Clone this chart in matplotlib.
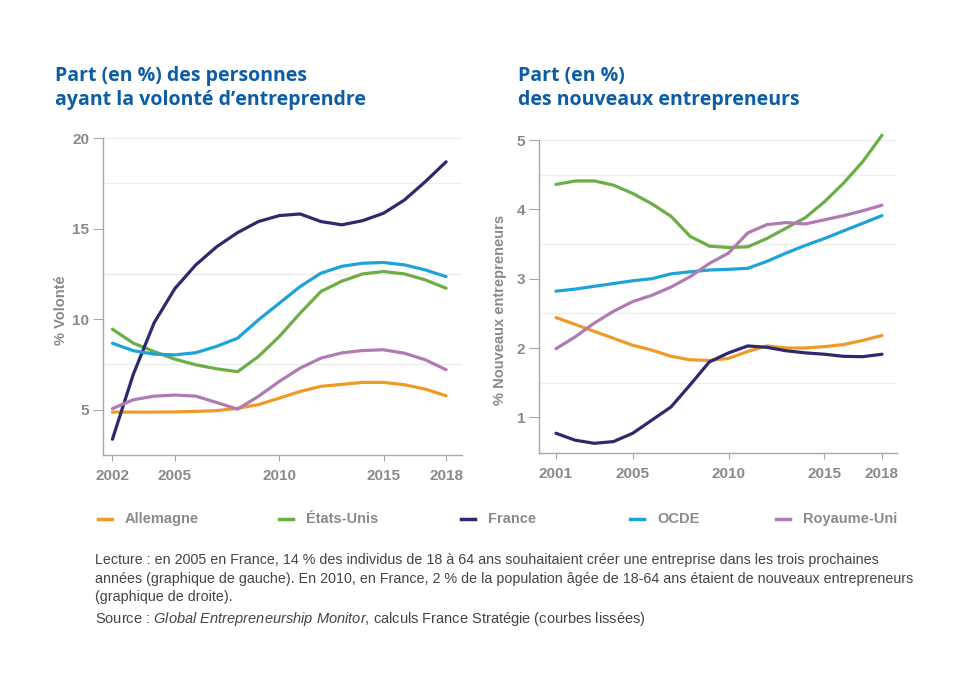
import matplotlib.pyplot as plt
import numpy as np

# données (courbes lissées)
annees_g = list(range(2002, 2019))
annees_d = list(range(2001, 2019))

# graphique de gauche : volonté d'entreprendre (%)
vol_allemagne = [4.87, 4.87, 4.87, 4.88, 4.91, 4.95, 5.08, 5.28, 5.64, 6.01,
                 6.29, 6.40, 6.51, 6.51, 6.38, 6.14, 5.77]
vol_etats_unis = [9.45, 8.68, 8.21, 7.79, 7.48, 7.26, 7.10, 7.94, 9.04, 10.33,
                  11.53, 12.10, 12.50, 12.63, 12.50, 12.17, 11.71]
vol_france = [3.37, 6.95, 9.80, 11.70, 13.00, 14.00, 14.78, 15.39, 15.72, 15.81,
              15.39, 15.21, 15.44, 15.85, 16.58, 17.59, 18.69]
vol_ocde = [8.67, 8.26, 8.07, 8.03, 8.15, 8.50, 8.95, 9.96, 10.88, 11.80,
            12.54, 12.92, 13.09, 13.13, 13.00, 12.72, 12.35]
vol_royaume_uni = [5.06, 5.55, 5.75, 5.81, 5.75, 5.40, 5.03, 5.74, 6.56, 7.30,
                   7.85, 8.14, 8.27, 8.31, 8.12, 7.76, 7.21]

# graphique de droite : nouveaux entrepreneurs (%)
nouv_allemagne = [2.44, 2.34, 2.24, 2.14, 2.04, 1.97, 1.88, 1.83, 1.82, 1.85,
                  1.95, 2.03, 2.00, 2.00, 2.02, 2.05, 2.11, 2.18]
nouv_etats_unis = [4.36, 4.41, 4.41, 4.35, 4.23, 4.08, 3.90, 3.61, 3.47, 3.45,
                   3.46, 3.58, 3.73, 3.88, 4.11, 4.38, 4.69, 5.07]
nouv_france = [0.77, 0.67, 0.625, 0.65, 0.77, 0.96, 1.15, 1.47, 1.80, 1.93,
               2.03, 2.01, 1.96, 1.93, 1.91, 1.88, 1.875, 1.91]
nouv_ocde = [2.82, 2.85, 2.89, 2.93, 2.97, 3.00, 3.07, 3.10, 3.125, 3.135,
             3.15, 3.25, 3.37, 3.48, 3.58, 3.69, 3.80, 3.91]
nouv_royaume_uni = [1.99, 2.16, 2.36, 2.53, 2.67, 2.76, 2.88, 3.03, 3.22, 3.37,
                    3.66, 3.78, 3.81, 3.79, 3.85, 3.91, 3.98, 4.06]

pays = ["Allemagne", "États-Unis", "France", "OCDE", "Royaume-Uni"]
couleurs = ["#ee9a27", "#6aae45", "#2c2a6c", "#1ea2dc", "#b07ab3"]

ticks_g = [2002, 2005, 2010, 2015, 2018]
ticks_d = [2001, 2005, 2010, 2015, 2018]

BLEU = "#0d5ca6"
GRIS = "#8a8a8a"
TEXTE = "#444444"

plt.rcParams['font.family'] = ['Liberation Sans', 'DejaVu Sans']
plt.rcParams['mathtext.fontset'] = 'custom'
plt.rcParams['mathtext.rm'] = 'Liberation Sans'
plt.rcParams['mathtext.it'] = 'Liberation Sans:italic'


# mise en forme commune des deux axes
def style_axe(ax, xlim, ylim, yticks, grille, xticks, ylabel, lab_x):
    ax.set_xlim(*xlim)
    ax.set_ylim(*ylim)
    for g in grille:
        ax.axhline(g, color="#ececec", lw=0.9, zorder=0)
    ax.set_yticks(yticks)
    ax.set_xticks(xticks)
    for s in ["top", "right"]:
        ax.spines[s].set_visible(False)
    for s in ["left", "bottom"]:
        ax.spines[s].set_color("#a8a8a8")
        ax.spines[s].set_linewidth(1.0)
    ax.tick_params(axis="y", length=7, color="#a8a8a8", pad=3,
                   labelsize=11, labelcolor=GRIS)
    ax.tick_params(axis="x", length=4, color="#a8a8a8", pad=6,
                   labelsize=11, labelcolor=GRIS)
    for lab in ax.get_xticklabels() + ax.get_yticklabels():
        lab.set_fontweight("bold")
    ax.set_ylabel(ylabel, color=GRIS, fontsize=10.5, fontweight="bold")
    ax.yaxis.set_label_coords(lab_x, 0.457)


fig = plt.figure(figsize=(9.54, 6.89), dpi=100)

ax1 = fig.add_axes([0.108, 0.3396, 0.376, 0.460])
series_g = [vol_allemagne, vol_etats_unis, vol_france, vol_ocde, vol_royaume_uni]
for nom, c, y in zip(pays, couleurs, series_g):
    ax1.plot(annees_g, y, color=c, lw=2.3, solid_joinstyle="round",
             solid_capstyle="round", clip_on=False, label=nom)
style_axe(ax1, (2001.55, 2018.75), (2.5, 20), [5, 10, 15, 20],
          [7.5, 12.5, 17.5, 20], ticks_g, "% Volonté", -0.098)

ax2 = fig.add_axes([0.5653, 0.342, 0.3753, 0.4547])
series_d = [nouv_allemagne, nouv_etats_unis, nouv_france, nouv_ocde, nouv_royaume_uni]
for nom, c, y in zip(pays, couleurs, series_d):
    ax2.plot(annees_d, y, color=c, lw=2.3, solid_joinstyle="round",
             solid_capstyle="round", clip_on=False)
style_axe(ax2, (2000.13, 2018.8), (0.48, 5), [1, 2, 3, 4, 5],
          [1.5, 2.5, 3.5, 4.5, 5], ticks_d, "% Nouveaux entrepreneurs", -0.090)

# titres
fig.text(0.058, 1 - 88 / 689, "Part (en %) des personnes\nayant la volonté d\u2019entreprendre",
         color=BLEU, fontsize=14, fontweight="bold", family=["Open Sans", "DejaVu Sans"],
         va="center", linespacing=1.22)
fig.text(0.543, 1 - 88 / 689, "Part (en %)\ndes nouveaux entrepreneurs",
         color=BLEU, fontsize=14, fontweight="bold", family=["Open Sans", "DejaVu Sans"],
         va="center", linespacing=1.22)

# légende
leg_x = [98, 279, 461, 630, 776]
for nom, c, x in zip(pays, couleurs, leg_x):
    fig.lines.append(plt.Line2D([x / 954, (x + 14) / 954], [1 - 519 / 689] * 2,
                                color=c, lw=2.5, transform=fig.transFigure))
    fig.text((x + 27) / 954, 1 - 519 / 689, nom, color=GRIS, fontsize=10.5,
             fontweight="bold", va="center")

# notes (une ligne à la fois)
lecture = ["Lecture : en 2005 en France, 14 % des individus de 18 à 64 ans souhaitaient créer une entreprise dans les trois prochaines",
           "années (graphique de gauche). En 2010, en France, 2 % de la population âgée de 18-64 ans étaient de nouveaux entrepreneurs",
           "(graphique de droite)."]
for i, ligne in enumerate(lecture):
    fig.text(95 / 954, 1 - (560 + 18.5 * i) / 689, ligne, color=TEXTE,
             fontsize=10.3, va="center")
fig.text(95 / 954, 1 - 619 / 689,
         "Source : $\\it{Global\\ Entrepreneurship\\ Monitor}$, calculs France Stratégie (courbes lissées)",
         color=TEXTE, fontsize=10.5, va="center")

fig.savefig("out.png", dpi=100)
